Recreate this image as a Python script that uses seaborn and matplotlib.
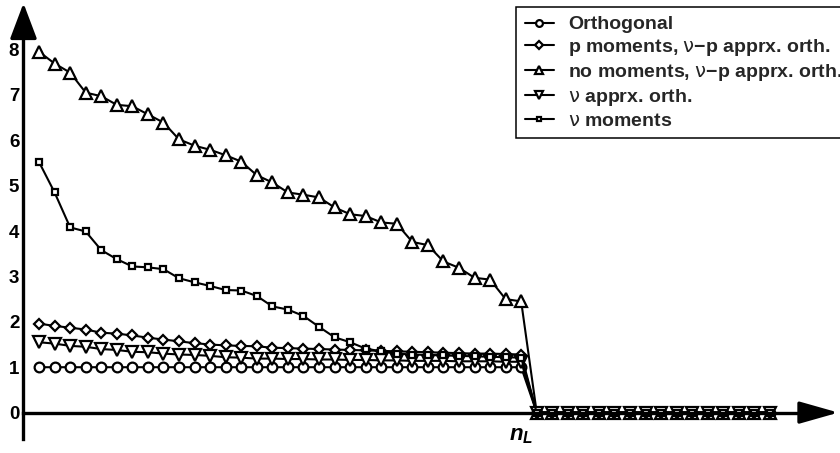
import numpy as np
import pandas as pd
import seaborn as sns
import matplotlib
matplotlib.use("Agg")
import matplotlib.pyplot as plt

# x positions (n = 1 .. 48), n_L = 32
n = list(range(1, 49))
n_L = 32

orthogonal = [1.0] * 32 + [0.0] * 16
p_moments = [1.96, 1.91, 1.87, 1.83, 1.76, 1.74, 1.70, 1.65, 1.61, 1.57, 1.53, 1.50,
             1.48, 1.47, 1.46, 1.43, 1.42, 1.41, 1.40, 1.39, 1.38, 1.37, 1.36, 1.35,
             1.34, 1.33, 1.32, 1.31, 1.30, 1.30, 1.29, 1.28] + [0.0] * 16
no_moments = [7.95, 7.69, 7.49, 7.05, 6.97, 6.78, 6.75, 6.57, 6.39, 6.02, 5.88, 5.79,
              5.67, 5.53, 5.23, 5.07, 4.85, 4.80, 4.74, 4.52, 4.37, 4.33, 4.19, 4.16,
              3.76, 3.69, 3.33, 3.19, 2.97, 2.93, 2.50, 2.45] + [0.0] * 16
nu_apprx = [1.55, 1.52, 1.47, 1.45, 1.40, 1.38, 1.34, 1.33, 1.30, 1.28, 1.27, 1.25,
            1.22, 1.21, 1.19, 1.19, 1.18, 1.18, 1.17, 1.17, 1.16, 1.16, 1.15, 1.15,
            1.14, 1.14, 1.14, 1.13, 1.13, 1.13, 1.12, 1.12] + [0.0] * 16
nu_moments = [5.52, 4.85, 4.08, 3.99, 3.58, 3.38, 3.22, 3.20, 3.16, 2.96, 2.87, 2.79,
              2.70, 2.69, 2.57, 2.34, 2.27, 2.13, 1.89, 1.66, 1.55, 1.41, 1.35, 1.30,
              1.28, 1.27, 1.26, 1.25, 1.24, 1.23, 1.22, 1.21] + [0.0] * 16

labels = ["Orthogonal",
          r"p moments, $\mathrm{\nu}$−p apprx. orth.",
          r"no moments, $\mathrm{\nu}$−p apprx. orth.",
          r"$\mathrm{\nu}$ apprx. orth.",
          r"$\mathrm{\nu}$ moments"]
series = [orthogonal, p_moments, no_moments, nu_apprx, nu_moments]
markers = ["o", "D", "^", "v", "s"]
sizes = [7, 5.5, 8, 8, 5]

sns.set_style("white")
plt.rcParams['font.family'] = ['Liberation Sans', 'DejaVu Sans']
plt.rcParams['font.weight'] = 'bold'
plt.rcParams['mathtext.fontset'] = 'custom'
plt.rcParams['mathtext.rm'] = 'DejaVu Sans:weight=normal'
plt.rcParams['mathtext.it'] = 'Liberation Sans:italic:bold'

fig = plt.figure(figsize=(8.4, 4.53), dpi=100)
ax = fig.add_axes([0, 0, 1, 1])

for vals, lab, mk, ms in zip(series, labels, markers, sizes):
    sns.lineplot(x=n, y=vals, ax=ax, color="black", lw=1.5, marker=mk, ms=ms,
                 mfc="white", mec="black", mew=1.6, label=lab)

ax.set_xlim(-1.51, 52.5)
ax.set_ylim(-0.89, 9.09)

# axes through the origin
for side in ["top", "right"]:
    ax.spines[side].set_visible(False)
ax.spines["left"].set_position(("data", 0))
ax.spines["bottom"].set_position(("data", 0))
ax.spines["left"].set_bounds(-0.58, 8.5)
ax.spines["bottom"].set_bounds(0, 50.6)
for side in ["left", "bottom"]:
    ax.spines[side].set_linewidth(2.4)
    ax.spines[side].set_color("black")
    ax.spines[side].set_zorder(2.5)

ax.annotate("", xy=(0, 9.02), xytext=(0, 8.3),
            arrowprops=dict(arrowstyle="-|>,head_length=2.2,head_width=0.83",
                            color="black", lw=2.4, shrinkA=0, shrinkB=0))
ax.annotate("", xy=(52.4, 0), xytext=(50.0, 0),
            arrowprops=dict(arrowstyle="-|>,head_length=2.4,head_width=0.68",
                            color="black", lw=2.4, shrinkA=0, shrinkB=0))

ax.set_yticks(range(0, 9))
ax.set_yticklabels([str(v) for v in range(0, 9)], fontsize=13.5, fontweight="bold")
ax.tick_params(axis="y", direction="in", length=8, width=2.2, pad=3, colors="black")
ax.set_xticks([n_L])
ax.set_xticklabels([r"$n_L$"], fontsize=16)
ax.tick_params(axis="x", direction="in", length=6.5, width=2.2, pad=9, colors="black")
ax.set_xlabel("")
ax.set_ylabel("")
ax.grid(False)

leg = ax.legend(loc="upper left", bbox_to_anchor=(516 / 840, 1 - 7 / 453),
                frameon=True, fancybox=False, shadow=False, fontsize=14,
                handlelength=1.5, handletextpad=0.75, labelspacing=0.2,
                borderpad=0.45, borderaxespad=0, markerscale=0.7)
leg.get_frame().set_edgecolor("black")
leg.get_frame().set_linewidth(1.1)
leg.get_frame().set_alpha(1)
for t in leg.get_texts():
    t.set_fontweight("bold")

fig.savefig("out.png", dpi=100)
